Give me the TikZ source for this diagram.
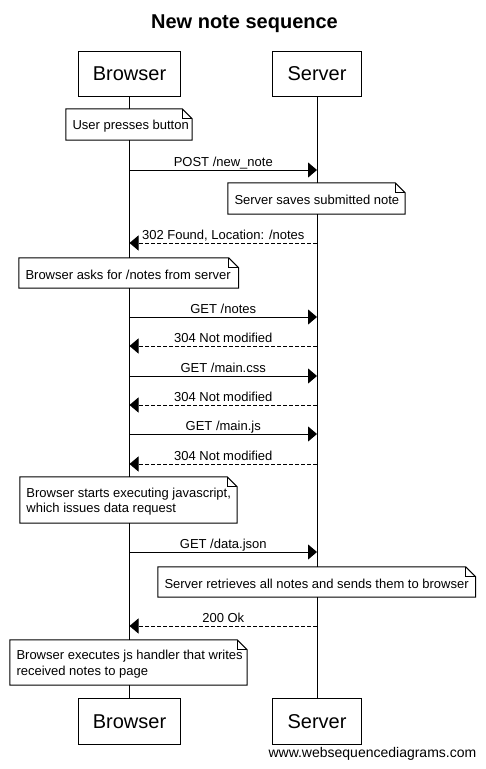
\documentclass[tikz,border=0pt]{standalone}
\usepackage{fontspec}
\setmainfont{Liberation Sans}
\usetikzlibrary{arrows.meta}
\newcommand\wsnote[6]{%
  \node[notebg, minimum width={(#4-#2)*1pt}, minimum height={(#5-#3)*1pt}] (#1) at ({(#2+#4)/2},{(#3+#5)/2}) {};
  \draw[notefrm] (#1.north west) -- ([xshift=-10pt]#1.north east) -- ([yshift=-10pt]#1.north east) -- (#1.south east) -- (#1.south west) -- cycle;
  \draw[notefrm] ([xshift=-10pt]#1.north east) |- ([yshift=-10pt]#1.north east);
  \node[notetext] (#1t) at ([xshift=6.5pt,yshift=-1.5pt]#1.west) {#6};
}
\begin{document}
\begin{tikzpicture}[x=1pt,y=-1pt,
  actor/.style={draw, line width=1pt, fill=white, inner sep=0pt, minimum height=45.4pt, font=\fontsize{20}{24}\selectfont},
  notebg/.style={fill=white, inner sep=0pt},
  notetext/.style={inner sep=0pt, align=left, anchor=west, font=\fontsize{13}{15.3}\selectfont},
  notefrm/.style={draw, line width=1pt},
  life/.style={line width=1pt},
  req/.style={line width=1pt, -{Triangle[length=9pt,width=15pt]}},
  resp/.style={req, dash pattern=on 4pt off 2pt},
  lbl/.style={midway, anchor=base, yshift=4pt, inner sep=0pt, font=\fontsize{13}{15}\selectfont}
]
\useasboundingbox (0,0) rectangle (485,769);
\fill[white] (0,0) rectangle (485,769);

\node[anchor=base, inner sep=0pt, font=\bfseries\fontsize{20}{24}\selectfont] (title) at (244.5,28.3) {New note sequence};

% participants
\node[actor, minimum width=102.4pt] (btop) at (129.5,74) {Browser};
\node[actor, minimum width=89.4pt] (stop) at (317,74) {Server};
\node[actor, minimum width=102.4pt] (bbot) at (129.5,721.5) {Browser};
\node[actor, minimum width=89.4pt] (sbot) at (317,721.5) {Server};

% lifelines
\draw[life] (btop.south) -- (bbot.north);
\draw[life] (stop.south) -- (sbot.north);

% notes
\wsnote{n1}{66}{109}{192}{140}{User presses button}
\wsnote{n2}{228}{183}{405}{214}{Server saves submitted note}
\wsnote{n3}{19}{258}{238.5}{288}{Browser asks for /notes from server}
\wsnote{n4}{20}{477}{237}{523}{Browser starts executing javascript,\\which issues data request}
\wsnote{n5}{158}{567}{475.5}{597}{Server retrieves all notes and sends them to browser}
\wsnote{n6}{10}{640}{247}{685}{Browser executes js handler that writes\\received notes to page}

% message anchor points
\foreach \i/\y in {1/170,2/243,3/317,4/346,5/376,6/405,7/434,8/464,9/552,10/626}{
  \coordinate (b\i) at (129.5,\y);
  \coordinate (s\i) at (317,\y);
}

\draw[req] (b1) -- node[lbl]{POST /new\_note} (s1);
\draw[resp] (s2) -- node[lbl]{302 Found, Location: /notes} (b2);
\draw[req] (b3) -- node[lbl]{GET /notes} (s3);
\draw[resp] (s4) -- node[lbl]{304 Not modified} (b4);
\draw[req] (b5) -- node[lbl]{GET /main.css} (s5);
\draw[resp] (s6) -- node[lbl]{304 Not modified} (b6);
\draw[req] (b7) -- node[lbl]{GET /main.js} (s7);
\draw[resp] (s8) -- node[lbl]{304 Not modified} (b8);
\draw[req] (b9) -- node[lbl]{GET /data.json} (s9);
\draw[resp] (s10) -- node[lbl]{200 Ok} (b10);

\node[anchor=base east, inner sep=0pt, font=\fontsize{14}{16}\selectfont] (wm) at (476.5,757) {www.websequencediagrams.com};
\end{tikzpicture}
\end{document}
